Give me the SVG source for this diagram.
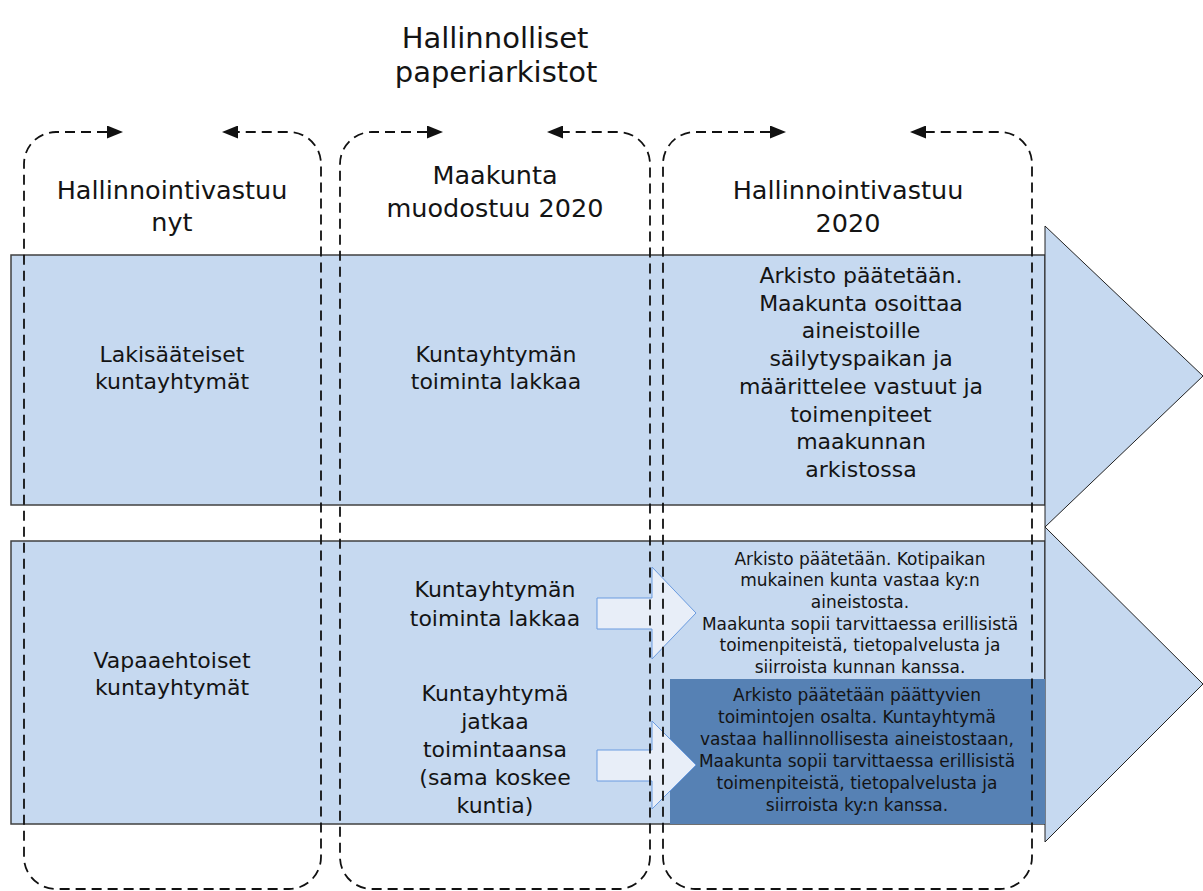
<svg xmlns="http://www.w3.org/2000/svg" width="1203" height="891" viewBox="0 0 1203 891">
<style>
text{font-family:"DejaVu Sans","Liberation Sans",sans-serif;fill:#141414;text-anchor:middle}
.hdr{font-size:25.5px}
.ttl{font-size:29px}
.band{font-size:22px}
.sm{font-size:17px}
.bandrect{fill:#c6d9f0;stroke:#404040;stroke-width:1.5}
.tri{fill:#c6d9f0;stroke:#222;stroke-width:1}
.sarrow{fill:#e8eef8;stroke:#6a9be0;stroke-width:1}
.col{fill:none;stroke:#111;stroke-width:1.8;stroke-dasharray:10 6}
</style>
<defs>
<marker id="ah" markerUnits="userSpaceOnUse" viewBox="0 0 16 13" refX="0" refY="6.5" markerWidth="16" markerHeight="13" orient="auto-start-reverse">
<path d="M0,0 L16,6.5 L0,13 z" fill="#111"/>
</marker>
</defs>

<g id="title">
<text class="ttl" x="495" y="48">Hallinnolliset</text>
<text class="ttl" x="496" y="82">paperiarkistot</text>
</g>

<g id="band-top">
<rect class="bandrect" x="11" y="255" width="1034" height="250"/>
<polygon class="tri" points="1045,226 1203,376 1045,527"/>
</g>

<g id="band-bottom">
<rect class="bandrect" x="11" y="541" width="1034" height="283"/>
<polygon class="tri" points="1045,527 1203,684 1045,842"/>
<rect x="670" y="679" width="375" height="145" fill="#5681b4"/>
</g>

<g id="header-1">
<text class="hdr" x="172" y="199">Hallinnointivastuu</text>
<text class="hdr" x="172" y="231">nyt</text>
</g>
<g id="header-2">
<text class="hdr" x="495" y="184">Maakunta</text>
<text class="hdr" x="495" y="217">muodostuu 2020</text>
</g>
<g id="header-3">
<text class="hdr" x="848" y="199">Hallinnointivastuu</text>
<text class="hdr" x="848" y="232">2020</text>
</g>

<g id="lakisaateiset">
<text class="band" x="172" y="362">Lakisääteiset</text>
<text class="band" x="172" y="389">kuntayhtymät</text>
</g>
<g id="lakkaa-1">
<text class="band" x="496" y="362">Kuntayhtymän</text>
<text class="band" x="496" y="389">toiminta lakkaa</text>
</g>
<g id="arkisto-1">
<text class="band" x="861" y="283">Arkisto päätetään.</text>
<text class="band" x="861" y="311">Maakunta osoittaa</text>
<text class="band" x="861" y="338">aineistoille</text>
<text class="band" x="861" y="366">säilytyspaikan ja</text>
<text class="band" x="861" y="394">määrittelee vastuut ja</text>
<text class="band" x="861" y="422">toimenpiteet</text>
<text class="band" x="861" y="449">maakunnan</text>
<text class="band" x="861" y="477">arkistossa</text>
</g>

<g id="vapaaehtoiset">
<text class="band" x="172" y="668">Vapaaehtoiset</text>
<text class="band" x="172" y="695">kuntayhtymät</text>
</g>
<g id="lakkaa-2">
<text class="band" x="495" y="597">Kuntayhtymän</text>
<text class="band" x="495" y="626">toiminta lakkaa</text>
</g>
<g id="jatkaa">
<text class="band" x="495" y="701">Kuntayhtymä</text>
<text class="band" x="495" y="729">jatkaa</text>
<text class="band" x="495" y="757">toimintaansa</text>
<text class="band" x="495" y="785">(sama koskee</text>
<text class="band" x="495" y="813">kuntia)</text>
</g>
<g id="arkisto-2">
<text class="sm" x="860" y="565">Arkisto päätetään. Kotipaikan</text>
<text class="sm" x="860" y="586">mukainen kunta vastaa ky:n</text>
<text class="sm" x="860" y="608">aineistosta.</text>
<text class="sm" x="860" y="630">Maakunta sopii tarvittaessa erillisistä</text>
<text class="sm" x="860" y="651">toimenpiteistä, tietopalvelusta ja</text>
<text class="sm" x="860" y="673">siirroista kunnan kanssa.</text>
</g>
<g id="arkisto-3">
<text class="sm" x="857" y="701">Arkisto päätetään päättyvien</text>
<text class="sm" x="857" y="723">toimintojen osalta. Kuntayhtymä</text>
<text class="sm" x="857" y="745">vastaa hallinnollisesta aineistostaan,</text>
<text class="sm" x="857" y="767">Maakunta sopii tarvittaessa erillisistä</text>
<text class="sm" x="857" y="789">toimenpiteistä, tietopalvelusta ja</text>
<text class="sm" x="857" y="811">siirroista ky:n kanssa.</text>
</g>

<g id="connectors">
<polygon class="sarrow" points="597,598 652,598 652,567 696,613 652,659 652,629 597,629"/>
<polygon class="sarrow" points="597,750 652,750 652,721 696,765 652,809 652,781 597,781"/>
<path class="col" marker-start="url(#ah)" marker-end="url(#ah)" d="M107,132 H56 A32,32 0 0 0 24,164 V857 A32,32 0 0 0 56,889 H289 A32,32 0 0 0 321,857 V164 A32,32 0 0 0 289,132 H238"/>
<path class="col" marker-start="url(#ah)" marker-end="url(#ah)" d="M427,132 H372 A32,32 0 0 0 340,164 V857 A32,32 0 0 0 372,889 H618 A32,32 0 0 0 650,857 V164 A32,32 0 0 0 618,132 H563"/>
<path class="col" marker-start="url(#ah)" marker-end="url(#ah)" d="M770,132 H695 A32,32 0 0 0 663,164 V857 A32,32 0 0 0 695,889 H1000 A32,32 0 0 0 1032,857 V164 A32,32 0 0 0 1000,132 H926"/>
</g>
</svg>
